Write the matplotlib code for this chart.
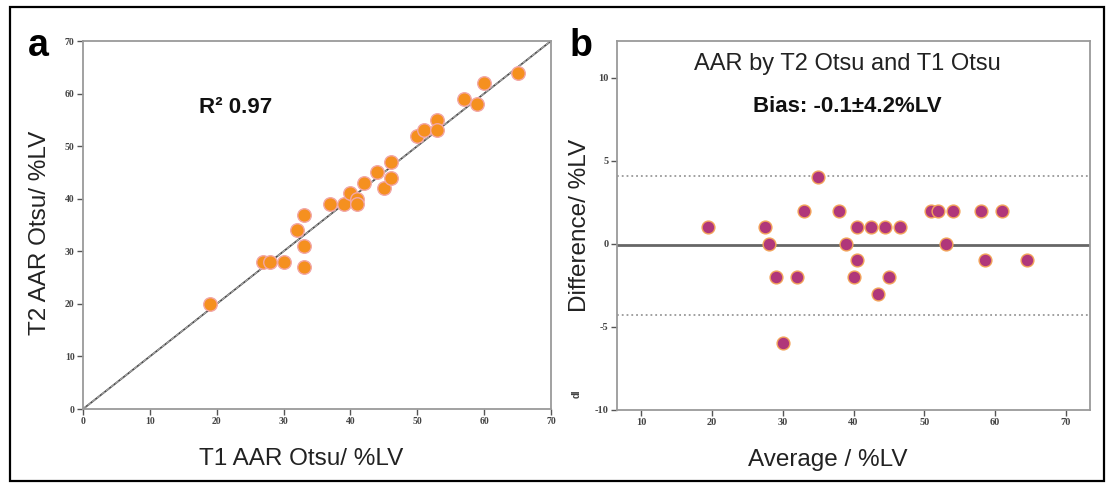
import matplotlib
matplotlib.use("Agg")
import matplotlib.pyplot as plt
import numpy as np
from matplotlib.patches import Rectangle

# T1 vs T2 AAR (Otsu), %LV
t1_aar = [19, 27, 28, 30, 32, 33, 33, 33, 37, 39, 40, 41, 41, 42, 44, 45, 46, 46,
          50, 51, 53, 53, 57, 59, 60, 65]
t2_aar = [20, 28, 28, 28, 34, 37, 31, 27, 39, 39, 41, 40, 39, 43, 45, 42, 44, 47,
          52, 53, 55, 53, 59, 58, 62, 64]

bias = -0.1
loa = 4.2
r2_text = "R\u00b2 0.97"

ticks_a = [0, 10, 20, 30, 40, 50, 60, 70]
xticks_b = [10, 20, 30, 40, 50, 60, 70]
yticks_b = [-10, -5, 0, 5, 10]

t1 = np.array(t1_aar, dtype=float)
t2 = np.array(t2_aar, dtype=float)
avg = (t1 + t2) / 2.0
diff = t2 - t1

plt.rcParams['font.family'] = ['Liberation Sans', 'DejaVu Sans']
plt.rcParams['axes.unicode_minus'] = False

fig = plt.figure(figsize=(11.11, 4.86), dpi=100)

# outer frame
fig.patches.append(Rectangle((0.009, 0.01), 0.985, 0.976, transform=fig.transFigure,
                             fill=False, edgecolor='black', linewidth=1.6))


def style_axes(ax, size):
    for s in ax.spines.values():
        s.set_color('#9a9a9a')
        s.set_linewidth(1.3)
    ax.tick_params(direction='out', length=4, width=1, colors='#555555',
                   labelsize=size, pad=2)
    for lab in ax.get_xticklabels() + ax.get_yticklabels():
        lab.set_fontfamily('Liberation Serif')
        lab.set_fontweight('bold')
        lab.set_color('#444444')


#############################################################################
#   PANEL A: CORRELATION

ax1 = fig.add_axes([0.0747, 0.1584, 0.4212, 0.7572])
ax1.plot([0, 70], [0, 70], color='#4d4d4d', linewidth=1.3, zorder=2)
ax1.plot([0, 70], [0, 70], color='#aaaaaa', linewidth=0.8, linestyle='--', zorder=2)
ax1.scatter(t1, t2, s=95, color='#f5901f', edgecolors='#f2a6a6', linewidths=1.0, zorder=3)
ax1.set_xlim(0, 70)
ax1.set_ylim(0, 70)
ax1.set_xticks(ticks_a)
ax1.set_yticks(ticks_a)
style_axes(ax1, 7)
ax1.set_xlabel("T1 AAR Otsu/ %LV", fontsize=17.5, color='#222222')
ax1.set_ylabel("T2 AAR Otsu/ %LV", fontsize=17.5, color='#222222')
ax1.xaxis.set_label_coords(0.466, -0.105)
ax1.yaxis.set_label_coords(-0.068, 0.48)
ax1.text(0.247, 0.82, r2_text, transform=ax1.transAxes, fontsize=16,
         fontweight='bold', ha='left', va='center', color='#111111')

#############################################################################
#   PANEL B: BLAND-ALTMAN

ax2 = fig.add_axes([0.5554, 0.1564, 0.4257, 0.7593])
ax2.axhline(bias, color='#666666', linewidth=2.0, zorder=2)
ax2.axhline(bias + loa, color='#999999', linewidth=1.3, linestyle=':', zorder=2)
ax2.axhline(bias - loa, color='#999999', linewidth=1.3, linestyle=':', zorder=2)
ax2.scatter(avg, diff, s=85, color='#b0377a', edgecolors='#f3a45a', linewidths=1.0, zorder=3)
ax2.set_xlim(6.6, 73.4)
ax2.set_ylim(-10, 12.2)
ax2.set_xticks(xticks_b)
ax2.set_yticks(yticks_b)
style_axes(ax2, 7.5)
ax2.set_xlabel("Average / %LV", fontsize=17.5, color='#222222')
ax2.set_ylabel("Difference/ %LV", fontsize=17.5, color='#222222')
ax2.xaxis.set_label_coords(0.446, -0.105)
ax2.yaxis.set_label_coords(-0.055, 0.5)
ax2.text(0.487, 0.937, "AAR by T2 Otsu and T1 Otsu", transform=ax2.transAxes,
         fontsize=17, ha='center', va='center', color='#222222')
ax2.text(0.487, 0.823, "Bias: -0.1\u00b14.2%LV", transform=ax2.transAxes,
         fontsize=16, fontweight='bold', ha='center', va='center', color='#111111')

# panel letters
fig.text(0.025, 0.905, "a", fontsize=27, fontweight='bold', ha='left', va='center')
fig.text(0.513, 0.905, "b", fontsize=27, fontweight='bold', ha='left', va='center')
fig.text(0.519, 0.19, "dI", fontsize=7, fontweight='bold', rotation=90,
         ha='center', va='center', color='#444444')

fig.savefig("out.png", dpi=100)
